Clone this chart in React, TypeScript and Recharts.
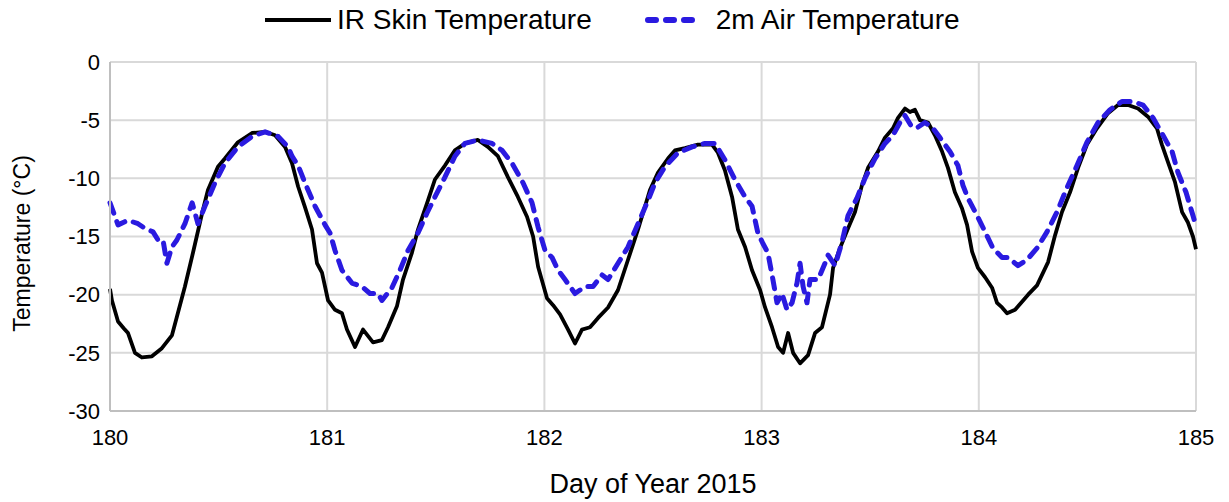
import { LineChart, Line, XAxis, YAxis, CartesianGrid } from 'recharts';

// IR skin temperature (day of year, °C)
const irDays = [
  180.0, 180.009, 180.037, 180.064, 180.083, 180.115, 180.147, 180.193, 180.239, 180.285,
  180.308, 180.345, 180.382, 180.424, 180.451, 180.497, 180.529, 180.589, 180.654, 180.714,
  180.76, 180.806, 180.838, 180.866, 180.898, 180.93, 180.953, 180.976, 181.004, 181.036,
  181.068, 181.091, 181.128, 181.165, 181.211, 181.252, 181.28, 181.321, 181.349, 181.39,
  181.418, 181.464, 181.496, 181.542, 181.588, 181.634, 181.694, 181.74, 181.786, 181.832,
  181.878, 181.92, 181.948, 181.971, 182.012, 182.04, 182.072, 182.109, 182.141, 182.173,
  182.21, 182.247, 182.293, 182.339, 182.385, 182.431, 182.486, 182.523, 182.569, 182.601,
  182.647, 182.707, 182.772, 182.799, 182.831, 182.864, 182.891, 182.924, 182.956, 182.993,
  183.016, 183.048, 183.076, 183.099, 183.122, 183.145, 183.177, 183.214, 183.246, 183.278,
  183.315, 183.329, 183.361, 183.398, 183.43, 183.462, 183.49, 183.536, 183.568, 183.605,
  183.628, 183.66, 183.683, 183.706, 183.729, 183.766, 183.798, 183.831, 183.858, 183.89,
  183.923, 183.946, 183.969, 183.996, 184.029, 184.061, 184.084, 184.107, 184.13, 184.167,
  184.199, 184.227, 184.268, 184.296, 184.319, 184.351, 184.383, 184.42, 184.457, 184.498,
  184.544, 184.595, 184.641, 184.687, 184.733, 184.779, 184.82, 184.843, 184.871, 184.903,
  184.936, 184.963, 184.986, 185.0,
];
const irTemp = [
  -19.5, -20.5, -22.3, -22.9, -23.3, -25.0, -25.4, -25.3, -24.6, -23.5,
  -21.9, -19.3, -16.4, -13.0, -11.0, -9.0, -8.3, -6.9, -6.1, -6.0,
  -6.3, -7.3, -8.7, -10.7, -12.5, -14.4, -17.3, -18.1, -20.5, -21.3,
  -21.6, -23.0, -24.5, -23.0, -24.1, -23.9, -22.8, -21.0, -18.7, -16.4,
  -14.4, -11.9, -10.1, -8.9, -7.6, -7.0, -6.7, -7.3, -8.1, -9.9,
  -11.6, -13.3, -15.0, -17.6, -20.3, -20.9, -21.7, -23.0, -24.2, -23.0,
  -22.8, -22.0, -21.1, -19.6, -17.0, -14.4, -11.0, -9.5, -8.3, -7.6,
  -7.4, -7.1, -7.1, -7.8, -9.3, -11.6, -14.4, -15.9, -17.9, -19.6,
  -21.1, -22.8, -24.5, -25.0, -23.3, -25.0, -25.9, -25.2, -23.3, -22.8,
  -20.0, -17.7, -16.0, -14.3, -12.9, -10.6, -9.1, -7.7, -6.5, -5.7,
  -4.8, -4.0, -4.3, -4.1, -5.0, -5.2, -6.3, -7.7, -9.1, -11.2,
  -12.6, -14.0, -16.3, -17.7, -18.5, -19.4, -20.7, -21.1, -21.6, -21.3,
  -20.6, -20.0, -19.2, -18.1, -17.2, -14.9, -12.9, -11.2, -9.1, -7.1,
  -5.7, -4.4, -3.7, -3.7, -4.0, -4.7, -5.7, -7.1, -8.6, -10.3,
  -12.9, -13.8, -15.0, -16.1,
];

// 2 m air temperature
const airDays = [
  180.0, 180.037, 180.083, 180.129, 180.161, 180.198, 180.221, 180.244, 180.262, 180.285,
  180.308, 180.345, 180.378, 180.405, 180.437, 180.483, 180.529, 180.589, 180.654, 180.714,
  180.774, 180.82, 180.838, 180.866, 180.898, 180.944, 180.99, 181.013, 181.036, 181.068,
  181.114, 181.16, 181.197, 181.234, 181.252, 181.298, 181.335, 181.372, 181.418, 181.459,
  181.496, 181.542, 181.588, 181.634, 181.694, 181.759, 181.805, 181.851, 181.902, 181.943,
  181.971, 182.003, 182.035, 182.063, 182.095, 182.141, 182.187, 182.224, 182.265, 182.293,
  182.339, 182.385, 182.431, 182.477, 182.509, 182.555, 182.615, 182.68, 182.739, 182.785,
  182.831, 182.877, 182.924, 182.956, 182.983, 183.006, 183.029, 183.052, 183.071, 183.094,
  183.117, 183.14, 183.163, 183.177, 183.191, 183.209, 183.223, 183.26, 183.292, 183.306,
  183.338, 183.37, 183.398, 183.439, 183.476, 183.522, 183.568, 183.605, 183.637, 183.66,
  183.692, 183.72, 183.752, 183.785, 183.821, 183.867, 183.904, 183.927, 183.95, 183.992,
  184.029, 184.065, 184.107, 184.134, 184.18, 184.222, 184.268, 184.314, 184.36, 184.406,
  184.452, 184.498, 184.549, 184.604, 184.659, 184.71, 184.756, 184.802, 184.848, 184.89,
  184.917, 184.954, 184.986, 185.0,
];
const airTemp = [
  -12.1, -14.0, -13.6, -13.9, -14.3, -14.6, -15.3, -15.3, -17.3, -15.9,
  -15.3, -13.9, -12.1, -13.9, -12.4, -10.4, -8.7, -7.3, -6.4, -6.0,
  -6.4, -7.3, -8.1, -8.9, -10.4, -12.4, -14.0, -14.7, -16.2, -17.9,
  -19.0, -19.3, -19.9, -19.9, -20.5, -19.4, -17.9, -16.2, -14.7, -13.0,
  -11.6, -9.9, -8.1, -7.0, -6.7, -7.0, -7.6, -8.7, -10.4, -12.1,
  -14.2, -16.2, -16.8, -17.9, -18.7, -19.9, -19.3, -19.3, -18.3, -18.7,
  -17.3, -15.9, -13.9, -11.9, -10.4, -9.0, -7.8, -7.3, -7.0, -7.0,
  -8.4, -10.1, -11.6, -12.4, -14.7, -15.6, -16.4, -18.7, -20.7, -19.9,
  -21.3, -20.7, -19.0, -17.3, -19.3, -20.7, -18.7, -18.7, -17.3, -16.6,
  -17.5, -15.5, -13.2, -11.7, -10.0, -8.3, -7.0, -6.3, -5.2, -4.6,
  -5.6, -5.6, -5.2, -5.6, -6.5, -7.7, -8.9, -10.6, -11.7, -13.2,
  -14.6, -16.0, -16.8, -16.8, -17.5, -17.0, -16.0, -14.6, -12.9, -10.8,
  -8.9, -6.9, -5.2, -4.1, -3.4, -3.4, -3.7, -4.8, -6.3, -7.7,
  -9.5, -11.2, -13.2, -14.1,
];

const dayTicks = [180, 181, 182, 183, 184, 185];
const tempTicks = [0, -5, -10, -15, -20, -25, -30];

const irData = irDays.map((d, i) => ({ day: d, temp: irTemp[i] }));
const airData = airDays.map((d, i) => ({ day: d, temp: airTemp[i] }));

const FONT = '"Liberation Sans", Arial, sans-serif';
const BLUE = '#2a1ae0';

function LegendBox() {
  return (
    <div
      style={{
        position: 'absolute',
        top: -1,
        left: 257,
        height: 26,
        display: 'flex',
        alignItems: 'center',
        fontSize: 28,
        color: '#000',
        fontFamily: FONT,
        whiteSpace: 'nowrap',
      }}
    >
      <svg width={66} height={10} style={{ marginRight: 6 }}>
        <line x1={0} y1={5} x2={66} y2={5} stroke="#000" strokeWidth={4} />
      </svg>
      <span>IR Skin Temperature</span>
      <svg width={62} height={10} style={{ marginLeft: 52, marginRight: 10 }}>
        <line x1={4} y1={5} x2={58} y2={5} stroke={BLUE} strokeWidth={6} strokeDasharray="8 10" strokeLinecap="round" />
      </svg>
      <span>2m Air Temperature</span>
    </div>
  );
}

export default function App() {
  return (
    <div style={{ position: 'relative', width: 1213, height: 494, fontFamily: FONT }}>
      <LineChart width={1213} height={494} margin={{ top: 54, right: 25, bottom: 0, left: 0 }}>
        <CartesianGrid stroke="#d9d9d9" strokeWidth={2} />
        <XAxis
          dataKey="day"
          type="number"
          domain={[180, 185]}
          ticks={dayTicks}
          allowDuplicatedCategory={false}
          height={91}
          tickLine={false}
          tickSize={0}
          tickMargin={18}
          axisLine={{ stroke: '#bfbfbf', strokeWidth: 2 }}
          tick={{ fill: '#000', fontSize: 22, fontFamily: FONT }}
          label={({ viewBox }: any) => (
            <text x={viewBox.x + viewBox.width / 2} y={viewBox.y + 82} textAnchor="middle" fontSize={27} fill="#000" fontFamily={FONT}>
              Day of Year 2015
            </text>
          )}
        />
        <YAxis
          dataKey="temp"
          type="number"
          domain={[-30, 0]}
          ticks={tempTicks}
          width={102}
          tickLine={false}
          tickSize={0}
          tickMargin={10}
          axisLine={{ stroke: '#bfbfbf', strokeWidth: 2 }}
          tick={{ fill: '#000', fontSize: 22, fontFamily: FONT }}
          label={({ viewBox }: any) => (
            <text
              x={22}
              y={viewBox.y + viewBox.height / 2 + 7}
              transform={`rotate(-90 22 ${viewBox.y + viewBox.height / 2 + 7})`}
              textAnchor="middle"
              fontSize={23}
              fill="#000"
              fontFamily={FONT}
            >
              Temperature (°C)
            </text>
          )}
        />
        <Line
          data={irData}
          dataKey="temp"
          name="IR Skin Temperature"
          stroke="#000"
          strokeWidth={3.8}
          strokeLinejoin="round"
          dot={false}
          type="linear"
          isAnimationActive={false}
        />
        <Line
          data={airData}
          dataKey="temp"
          name="2m Air Temperature"
          stroke={BLUE}
          strokeWidth={5}
          strokeDasharray="11 9"
          strokeLinecap="round"
          strokeLinejoin="round"
          dot={false}
          type="linear"
          isAnimationActive={false}
        />
      </LineChart>
      <LegendBox />
    </div>
  );
}
